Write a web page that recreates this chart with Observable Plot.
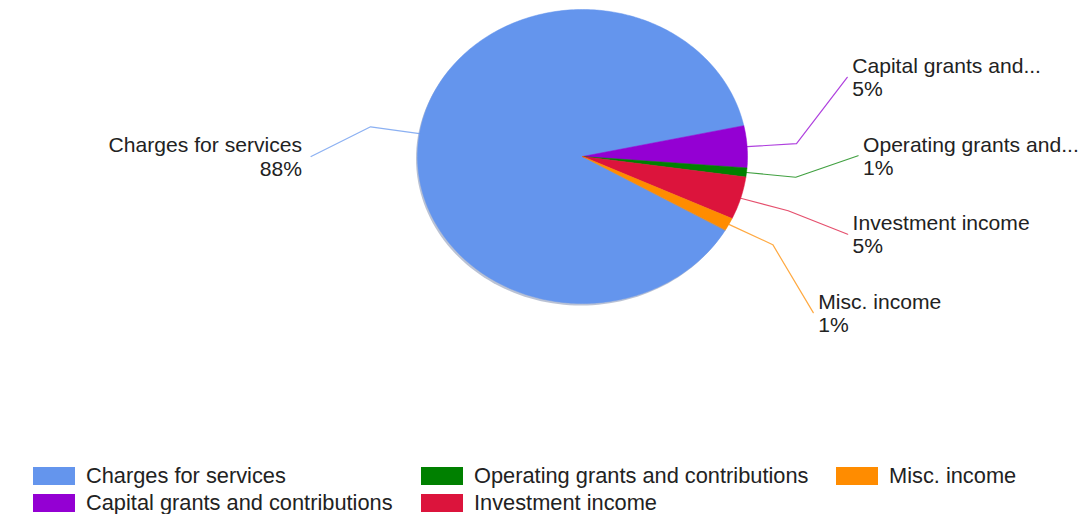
<!DOCTYPE html>
<html>
<head>
<meta charset="utf-8">
<script src="https://cdn.jsdelivr.net/npm/d3@7"></script>
<script src="https://cdn.jsdelivr.net/npm/@observablehq/plot@0.6"></script>
<style>
  html, body { margin: 0; padding: 0; background: #fff; }
  body { width: 1081px; height: 514px; position: relative; overflow: hidden; font-family: "Liberation Sans", Arial, sans-serif; }
  #chart { position: absolute; left: 0; top: 0; }
  #legend { position: absolute; left: 33px; top: 462px; display: grid; grid-auto-flow: column;
            grid-template-rows: 27px 27px; grid-template-columns: 388px 415px auto; }
  .item { display: flex; align-items: center; font-size: 21.8px; color: #222; white-space: nowrap; }
  .sw { width: 42px; height: 18px; margin-right: 11px; flex: none; }
</style>
</head>
<body>
<div id="chart"></div>
<div id="legend"></div>
<script>
const categories = ["Charges for services", "Capital grants and contributions", "Operating grants and contributions", "Investment income", "Misc. income"];
const shares = [88.3, 4.6, 1.0, 4.7, 1.4];
const colors = ["#6495ed", "#9400d3", "#008000", "#dc143c", "#ff8c00"];

// layout constants (styling, not data)
const START_DEG = 30;          // first slice starts here (screen degrees, clockwise from 3 o'clock)
const ELBOW_R = 1.3;           // leader elbow radius (unit ellipse)
const LABEL_AX = 1.7, LABEL_BY = 1.96; // label ellipse
const SPACING = 79 / 148;      // min vertical spacing between labels (unit)
const NATURAL_R = {"1": 1.33, "-1": 0};

const total = d3.sum(shares);
const truncate = s => {
  if (s.length <= 20) return s;
  const cut = s.slice(0, 22);
  return cut.slice(0, cut.lastIndexOf(" ")) + "...";
};

// slices
const slicePts = [];
const info = [];
let a = START_DEG * Math.PI / 180;
categories.forEach((name, i) => {
  const span = shares[i] / total * 2 * Math.PI;
  const a0 = a, a1 = a + span;
  slicePts.push({name, x: 0, y: 0});
  const steps = Math.max(2, Math.ceil(span / (Math.PI / 180)));
  for (let k = 0; k <= steps; k++) {
    const t = a0 + (a1 - a0) * k / steps;
    slicePts.push({name, x: Math.cos(t), y: Math.sin(t)});
  }
  const m = (a0 + a1) / 2;
  const side = Math.cos(m) >= 0 ? 1 : -1;
  info.push({name, m, side, ny: NATURAL_R[side] * Math.sin(m),
             pct: Math.round(shares[i] / total * 100) + "%"});
  a = a1;
});

// full ellipse for shadow
const shadowPts = d3.range(0, 361, 2).map(t => ({x: Math.cos(t * Math.PI / 180), y: Math.sin(t * Math.PI / 180)}));

// dodge labels per side
for (const side of [1, -1]) {
  const g = info.filter(d => d.side === side).sort((p, q) => p.ny - q.ny);
  if (!g.length) continue;
  const ys = [];
  g.forEach((d, i) => ys.push(i === 0 ? d.ny : Math.max(d.ny, ys[i - 1] + SPACING)));
  const shift = d3.mean(g, d => d.ny) - d3.mean(ys);
  g.forEach((d, i) => {
    d.ly = ys[i] + shift;
    d.lx = side * LABEL_AX * Math.sqrt(Math.max(0, 1 - (d.ly / LABEL_BY) ** 2));
  });
}

const leaders = [];
info.forEach(d => {
  leaders.push({name: d.name, x: Math.cos(d.m), y: Math.sin(d.m)});
  leaders.push({name: d.name, x: ELBOW_R * Math.cos(d.m), y: ELBOW_R * Math.sin(d.m)});
  leaders.push({name: d.name, x: d.lx - d.side * (d.side > 0 ? 0.03 : 0.055), y: d.ly});
});

const labels = info.map(d => ({...d, text: truncate(d.name) + "\n" + d.pct}));

const textOpts = {x: "lx", y: "ly", text: "text", fontSize: 21.1, fill: "#222", lineHeight: 1.1, lineAnchor: "middle",
                  fontFamily: "Liberation Sans, Arial, sans-serif"};

const plot = Plot.plot({
  width: 1081,
  height: 460,
  margin: 0,
  x: {domain: [-1, 1], range: [417, 747], axis: null},
  y: {domain: [-1, 1], range: [9, 303], axis: null},
  color: {domain: categories, range: colors},
  marks: [
    Plot.line(shadowPts, {x: "x", y: "y", curve: "linear-closed", fill: "#1a3570", fillOpacity: 0.3, stroke: "none", dx: -1.5, dy: 2}),
    Plot.line(slicePts, {x: "x", y: "y", z: "name", fill: "name", stroke: "name", strokeWidth: 0.5, curve: "linear-closed"}),
    Plot.line(leaders, {x: "x", y: "y", z: "name", stroke: "name", strokeWidth: 1.2, strokeOpacity: 0.75}),
    Plot.text(labels.filter(d => d.side > 0), {...textOpts, textAnchor: "start"}),
    Plot.text(labels.filter(d => d.side < 0), {...textOpts, textAnchor: "end"})
  ]
});
document.getElementById("chart").appendChild(plot);

const legend = document.getElementById("legend");
categories.forEach((name, i) => {
  const it = document.createElement("div");
  it.className = "item";
  it.innerHTML = `<span class="sw" style="background:${colors[i]}"></span><span>${name}</span>`;
  legend.appendChild(it);
});
</script>
</body>
</html>
